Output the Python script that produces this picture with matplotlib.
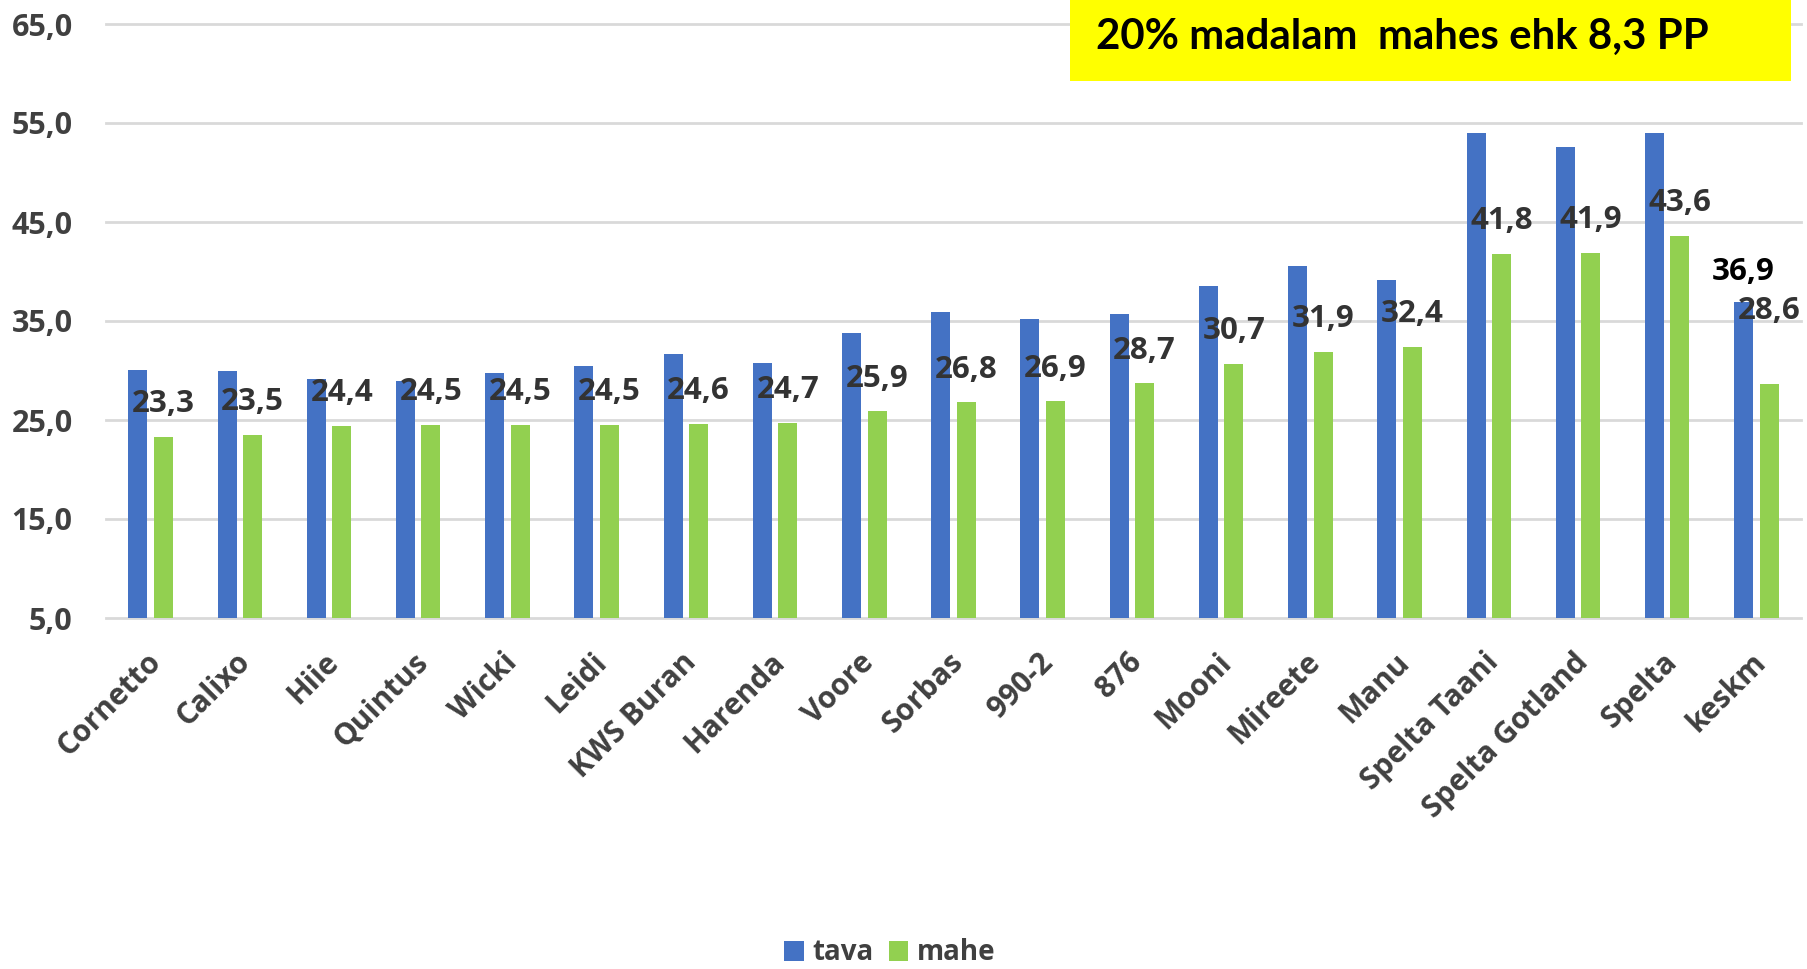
import matplotlib
matplotlib.use("Agg")
import matplotlib.pyplot as plt
from matplotlib.patches import Rectangle, Patch
from matplotlib.transforms import ScaledTranslation
import numpy as np

plt.rcParams['font.family'] = ['Open Sans', 'DejaVu Sans']

# ---------------- data ----------------
categories = ["Cornetto", "Calixo", "Hiie", "Quintus", "Wicki", "Leidi", "KWS Buran",
              "Harenda", "Voore", "Sorbas", "990-2", "876", "Mooni", "Mireete", "Manu",
              "Spelta Taani", "Spelta Gotland", "Spelta", "keskm"]
tava = [30.1, 29.9, 29.1, 28.9, 29.7, 30.5, 31.7, 30.8, 33.8, 35.9, 35.2, 35.7,
        38.5, 40.6, 39.1, 54.0, 52.6, 54.0, 36.9]
mahe = [23.3, 23.5, 24.4, 24.5, 24.5, 24.5, 24.6, 24.7, 25.9, 26.8, 26.9, 28.7,
        30.7, 31.9, 32.4, 41.8, 41.9, 43.6, 28.6]
series_names = ["tava", "mahe"]
yticks = [5.0, 15.0, 25.0, 35.0, 45.0, 55.0, 65.0]
note_text = "20% madalam  mahes ehk 8,3 PP"
labelled_tava = ["keskm"]          # tava series only labelled for the average

# ---------------- style ----------------
W, H = 1808, 969
BLUE = "#4472C4"
GREEN = "#92D050"
GRID = "#D9D9D9"
TXT = "#404040"

def fmt(v):
    return f"{v:.1f}".replace(".", ",")

fig = plt.figure(figsize=(W / 100, H / 100), dpi=100)
ax = fig.add_axes([106 / W, 1 - 618 / H, (1801 - 106) / W, (618 - 24) / H])

x = np.arange(len(categories))
bw = 0.213
off = 0.143
ax.bar(x - off, tava, width=bw, color=BLUE, zorder=2, label=series_names[0])
ax.bar(x + off, mahe, width=bw, color=GREEN, zorder=2, label=series_names[1])

ax.set_xlim(-0.5, len(categories) - 0.5)
ax.set_ylim(yticks[0], yticks[-1])
for t in yticks:
    ax.axhline(t, color=GRID, lw=2.0, zorder=0, clip_on=False)

for s in ax.spines.values():
    s.set_visible(False)

ax.set_yticks(yticks)
ax.set_yticklabels([fmt(t) for t in yticks])
ax.tick_params(axis="y", length=0, pad=24, labelsize=22, labelcolor=TXT)
for lbl in ax.get_yticklabels():
    lbl.set_fontweight("bold")

ax.set_xticks(x)
ax.set_xticklabels(categories, rotation=45, ha="right", va="top",
                   rotation_mode="anchor", fontsize=21.5, fontweight="bold", color=TXT)
ax.tick_params(axis="x", length=0, pad=21)
shift = ScaledTranslation(-5 / 100, 0, fig.dpi_scale_trans)
for lbl in ax.get_xticklabels():
    lbl.set_transform(lbl.get_transform() + shift)

# data labels
lift = 23.4  # points above bar top
extra_lift = {"keskm": 53.0}
for i, (c, v) in enumerate(zip(categories, mahe)):
    ax.annotate(fmt(v), (x[i] + off, v), xytext=(0, extra_lift.get(c, lift)),
                textcoords="offset points", ha="center", va="center",
                fontsize=22.5, fontweight="bold", color="#333333", zorder=5)
for i, (c, v) in enumerate(zip(categories, tava)):
    if c in labelled_tava:
        ax.annotate(fmt(v), (x[i] - off, v), xytext=(0, lift - 1.5),
                    textcoords="offset points", ha="center", va="center",
                    fontsize=22.5, fontweight="bold", color="black", zorder=5)

# yellow note box
fig.patches.append(Rectangle((1070 / W, 1 - 81 / H), (1791 - 1070) / W, 81 / H,
                             transform=fig.transFigure, facecolor="#FFFF00",
                             edgecolor="none", zorder=10))
note = fig.text(1096 / W, 1 - 48.5 / H, note_text, ha="left", va="baseline",
                fontsize=27, fontweight="bold", color="black",
                family=["Lato", "Open Sans", "DejaVu Sans"], zorder=11)
fig.canvas.draw()
bb = note.get_window_extent()
note.set_fontsize(27 * 613 / bb.width)

# legend
handles = [Patch(facecolor=BLUE, edgecolor="none"), Patch(facecolor=GREEN, edgecolor="none")]
leg = fig.legend(handles, series_names, loc="center", bbox_to_anchor=(890 / W, 1 - 953 / H),
                 ncol=2, frameon=False, prop={"size": 20, "weight": "bold"},
                 handlelength=0.7, handleheight=0.72, handletextpad=0.32,
                 columnspacing=0.55, borderpad=0, borderaxespad=0)
for t in leg.get_texts():
    t.set_color(TXT)

fig.savefig("out.png", dpi=100, facecolor="white")
